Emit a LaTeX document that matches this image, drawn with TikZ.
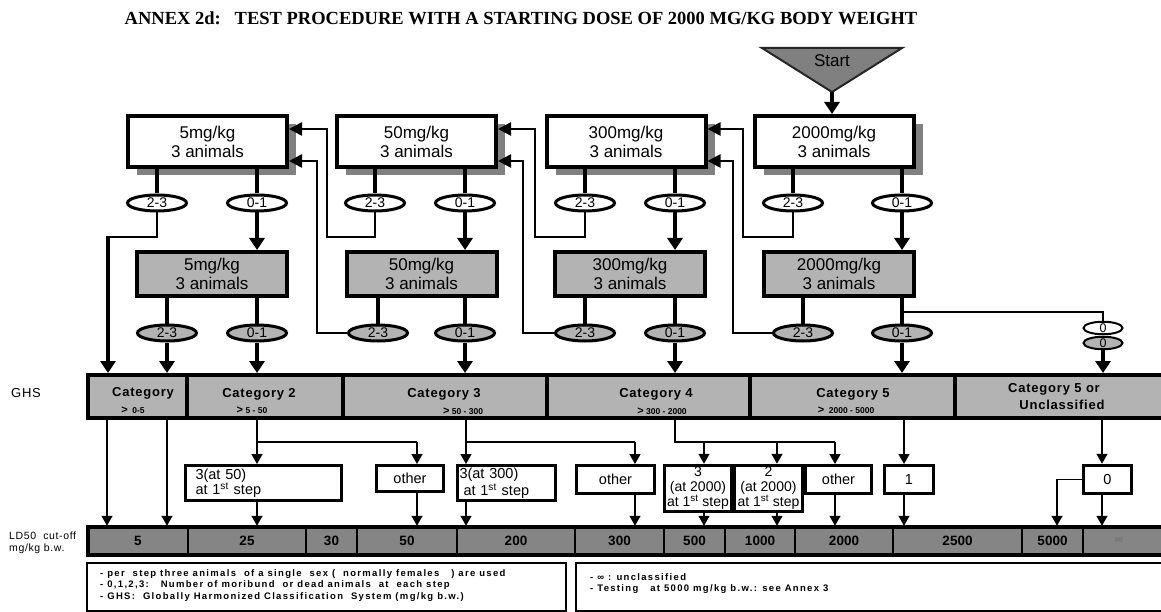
\documentclass[tikz,border=0pt]{standalone}
\usepackage{fontspec}
\setmainfont{Liberation Sans}
\newfontfamily\titlefont{Liberation Serif}
\newfontfamily\spacedfont[LetterSpace=6]{Liberation Sans}
\newfontfamily\widefont[LetterSpace=14]{Liberation Sans}
\usetikzlibrary{arrows.meta,shadows,shapes.geometric}
\definecolor{shadegray}{HTML}{808080}
\definecolor{lightgraytwo}{HTML}{B3B3B3}
\definecolor{darkgraytwo}{HTML}{858585}
\tikzset{
  bigtip/.tip={Triangle[width=15pt,length=12pt]},
  looptip/.tip={Triangle[width=13pt,length=13pt]},
  smalltip/.tip={Triangle[width=11pt,length=10pt]},
  wbox/.style={draw,line width=4pt,fill=white,minimum width=159pt,minimum height=51pt,inner sep=0pt,align=center,font=\fontsize{17}{19}\selectfont,general shadow={fill=shadegray,shadow xshift=9pt,shadow yshift=-8pt}},
  gbox/.style={draw,line width=4pt,fill=lightgraytwo,minimum width=150pt,minimum height=44pt,inner sep=0pt,align=center,font=\fontsize{17}{19}\selectfont},
  wov/.style={ellipse,draw,line width=3pt,fill=white,minimum width=59pt,minimum height=16pt,inner sep=0pt,font=\fontsize{14}{14}\selectfont},
  gov/.style={wov,fill=lightgraytwo},
  zov/.style={ellipse,draw,line width=2pt,fill=white,minimum width=39pt,minimum height=12pt,inner sep=0pt,font=\fontsize{12.5}{12.5}\selectfont},
  mainline/.style={line width=4pt},
  loopline/.style={line width=2.5pt},
  thinline/.style={line width=1.5pt},
  ghscell/.style={draw,line width=4pt,fill=lightgraytwo,minimum height=43pt,inner sep=0pt},
  ghstxt/.style={font=\spacedfont\bfseries\fontsize{13}{13}\selectfont,inner sep=0pt},
  ghssub/.style={font=\bfseries\fontsize{8.5}{9}\selectfont,inner sep=0pt},
  ldcell/.style={draw,line width=2.5pt,fill=darkgraytwo,minimum height=28pt,inner sep=0pt,font=\bfseries\fontsize{13.5}{14}\selectfont},
  lbox/.style={draw,line width=3pt,fill=white,inner sep=0pt,font=\fontsize{14.5}{15}\selectfont},
  legbox/.style={draw,line width=1.5pt,fill=white},
  legtxt/.style={anchor=north west,align=left,inner sep=0pt,font=\widefont\bfseries\fontsize{9.5}{11.5}\selectfont}
}
\begin{document}
\begin{tikzpicture}[x=1pt,y=-1pt]
\useasboundingbox (0,0) rectangle (1161,612);

% title
\node[font=\titlefont\bfseries\fontsize{18.5}{18.5}\selectfont] (title) at (521,18) {ANNEX 2d:\ \ \ TEST PROCEDURE WITH A STARTING DOSE OF 2000 MG/KG BODY WEIGHT};

% start
\coordinate (apex) at (832,92);
\draw[line width=2pt,draw=black!85,fill=shadegray] (762,48) -- (902,48) -- (apex) -- cycle;
\node[font=\fontsize{17}{17}\selectfont] (start) at (832,61) {Start};

% white boxes
\node[wbox] (wb5) at (207.5,141.5) {5mg/kg\\3 animals};
\node[wbox] (wb50) at (416.5,141.5) {50mg/kg\\3 animals};
\node[wbox] (wb300) at (626,141.5) {300mg/kg\\3 animals};
\node[wbox] (wb2000) at (834,141.5) {2000mg/kg\\3 animals};
\draw[mainline,-{bigtip}] (apex) -- (apex |- wb2000.north);

% gray boxes
\node[gbox] (gb5) at (212,274) {5mg/kg\\3 animals};
\node[gbox] (gb50) at (421.5,274) {50mg/kg\\3 animals};
\node[gbox] (gb300) at (630,274) {300mg/kg\\3 animals};
\node[gbox] (gb2000) at (839,274) {2000mg/kg\\3 animals};

% white ovals
\node[wov] (ow5a) at (157,203) {2-3};
\node[wov] (ow5b) at (257,203) {0-1};
\node[wov] (ow50a) at (375,203) {2-3};
\node[wov] (ow50b) at (465,203) {0-1};
\node[wov] (ow300a) at (585,203) {2-3};
\node[wov] (ow300b) at (675,203) {0-1};
\node[wov] (ow2000a) at (793,203) {2-3};
\node[wov] (ow2000b) at (902,203) {0-1};

% gray ovals
\node[gov] (og5a) at (167,333) {2-3};
\node[gov] (og5b) at (257,333) {0-1};
\node[gov] (og50a) at (378,333) {2-3};
\node[gov] (og50b) at (465,333) {0-1};
\node[gov] (og300a) at (585,333) {2-3};
\node[gov] (og300b) at (675,333) {0-1};
\node[gov] (og2000a) at (803,333) {2-3};
\node[gov] (og2000b) at (902,333) {0-1};

% zero ovals
\node[zov] (zw) at (1103,328) {0};
\node[zov,fill=lightgraytwo] (zg) at (1103,343) {0};

% GHS bar
\node[ghscell,minimum width=99pt] (c1) at (137.5,396.5) {};
\node[ghscell,minimum width=156pt] (c2) at (265,396.5) {};
\node[ghscell,minimum width=204pt] (c3) at (445,396.5) {};
\node[ghscell,minimum width=203pt] (c4) at (648.5,396.5) {};
\node[ghscell,minimum width=205pt] (c5) at (852.5,396.5) {};
\node[ghscell,minimum width=212pt] (c6) at (1061,396.5) {};
\node[ghstxt] (t1) at (143,393) {Category};
\node[ghssub] (s1) at (133,410) {{\fontsize{11}{11}\selectfont >}\ \ 0-5};
\node[ghstxt] (t2) at (259,394) {Category 2};
\node[ghssub] (s2) at (252,410) {{\fontsize{11}{11}\selectfont >}\ 5 - 50};
\node[ghstxt] (t3) at (444,394) {Category 3};
\node[ghssub] (s3) at (463,411) {{\fontsize{11}{11}\selectfont >}\ 50 - 300};
\node[ghstxt] (t4) at (656,394) {Category 4};
\node[ghssub] (s4) at (662,411) {{\fontsize{11}{11}\selectfont >}\ 300 - 2000};
\node[ghstxt] (t5) at (853,394) {Category 5};
\node[ghssub] (s5) at (846,410) {{\fontsize{11}{11}\selectfont >}\ \ 2000 - 5000};
\node[ghstxt] (t6) at (1054,389) {Category 5 or};
\node[ghstxt] (t7) at (1062,405) {Unclassified};
\node[font=\spacedfont\fontsize{13}{13}\selectfont] (ghs) at (26,393) {GHS};

% LD50 bar
\node[ldcell,minimum width=100pt] (ld1) at (138,541) {5};
\node[ldcell,minimum width=118pt] (ld2) at (247,541) {25};
\node[ldcell,minimum width=51pt] (ld3) at (331.5,541) {30};
\node[ldcell,minimum width=100pt] (ld4) at (407,541) {50};
\node[ldcell,minimum width=118pt] (ld5) at (516,541) {200};
\node[ldcell,minimum width=89pt] (ld6) at (619.5,541) {300};
\node[ldcell,minimum width=61pt] (ld7) at (694.5,541) {500};
\node[ldcell,minimum width=70pt] (ld8) at (760,541) {1000};
\node[ldcell,minimum width=98pt] (ld9) at (844,541) {2000};
\node[ldcell,minimum width=129pt] (ld10) at (957.5,541) {2500};
\node[ldcell,minimum width=61pt] (ld11) at (1052.5,541) {5000};
\node[ldcell,minimum width=84pt] (ld12) at (1125,541) {\hspace*{-12pt}{\color{black!55}\fontsize{12}{12}\selectfont ∞}};
\draw[line width=4pt] (88,527) rectangle (1167,555);
\node[anchor=west,align=left,inner sep=0pt,font=\spacedfont\fontsize{10.5}{12}\selectfont] (ldlab) at (9,543) {LD50\ \ cut-off\\mg/kg b.w.};

% connectors top part
\foreach \b/\o in {wb5/ow5a,wb5/ow5b,wb50/ow50a,wb50/ow50b,wb300/ow300a,wb300/ow300b,wb2000/ow2000a,wb2000/ow2000b}
  \draw[mainline] (\o.north |- \b.south) -- (\o.north);
\foreach \o/\b in {ow5b/gb5,ow50b/gb50,ow300b/gb300,ow2000b/gb2000}
  \draw[mainline,-{bigtip}] (\o.south) -- (\o.south |- \b.north);
\foreach \b/\o in {gb5/og5a,gb5/og5b,gb50/og50a,gb50/og50b,gb300/og300a,gb300/og300b,gb2000/og2000a,gb2000/og2000b}
  \draw[mainline] (\o.north |- \b.south) -- (\o.north);
\foreach \o/\c in {og5a/c1,og5b/c2,og50b/c3,og300b/c4,og2000b/c5}
  \draw[mainline,-{bigtip}] (\o.south) -- (\o.south |- \c.north);

% 5 mg 2-3 to category 1
\coordinate (k0) at (108,237);
\draw[loopline] (ow5a.south) |- (k0);
\draw[mainline,-{bigtip}] ([yshift=1.25pt]k0) -- (k0 |- c1.north);

% loops back
\coordinate (ua) at (0,129);
\coordinate (ub) at (0,161);
\draw[loopline,-{looptip}] (ow50a.south) |- (327,237) |- (wb5.east |- ua);
\draw[loopline,-{looptip}] (og50a.west) -- (317,333) |- (wb5.east |- ub);
\draw[loopline,-{looptip}] (ow300a.south) |- (535,237) |- (wb50.east |- ua);
\draw[loopline,-{looptip}] (og300a.west) -- (523,333) |- (wb50.east |- ub);
\draw[loopline,-{looptip}] (ow2000a.south) |- (743,237) |- (wb300.east |- ua);
\draw[loopline,-{looptip}] (og2000a.west) -- (733,333) |- (wb300.east |- ub);

% 2000 branch to zero ovals
\coordinate (br) at (902,312);
\draw[line width=2pt] (br) -| (zw.north);
\draw[mainline,-{bigtip}] (zg.south) -- (zg.south |- c6.north);

% lower boxes
\node[lbox,minimum width=156pt,minimum height=35pt,text width=136pt,inner xsep=10pt,align=left] (b50) at (263.5,483) {3(at 50)\\at 1\textsuperscript{st} step};
\node[lbox,minimum width=67pt,minimum height=26pt] (other1) at (410,478.5) {other};
\node[lbox,minimum width=98pt,minimum height=35pt,text width=94pt,inner xsep=2pt,align=left] (b300) at (506.5,483) {3(at 300)\\[2pt]\hspace*{4pt}at 1\textsuperscript{st} step};
\node[lbox,minimum width=78pt,minimum height=28pt] (other2) at (615.5,479.5) {other};
\node[lbox,line width=3.5pt,minimum width=67pt,minimum height=46pt,align=center,font=\fontsize{14}{15}\selectfont] (b2000a) at (698,488.5) {3\\(at 2000)\\at 1\textsuperscript{st} step};
\node[lbox,line width=3.5pt,minimum width=68pt,minimum height=46pt,align=center,font=\fontsize{14}{15}\selectfont] (b2000b) at (768.5,488.5) {2\\(at 2000)\\at 1\textsuperscript{st} step};
\node[lbox,minimum width=66pt,minimum height=28pt] (other3) at (838.5,479.5) {other};
\node[lbox,minimum width=49pt,minimum height=28pt] (box1) at (909,479.5) {1};
\node[lbox,line width=3.5pt,minimum width=48pt,minimum height=28pt] (box0) at (1107.5,479.5) {0};

% lower connectors
\coordinate (g1) at (107,420);
\coordinate (g2) at (167,420);
\coordinate (g3) at (257,420);
\coordinate (g4) at (466,420);
\coordinate (g5) at (675,420);
\coordinate (g6) at (904,420);
\coordinate (g7) at (1102,420);
\coordinate (j1) at (417,442);
\coordinate (j2) at (635,442);
\coordinate (j3) at (704,442);
\coordinate (j4) at (777,442);
\coordinate (j5) at (835,442);
\coordinate (j6) at (1057,0);
\draw[thinline,-{smalltip}] (g1) -- (g1 |- ld1.north);
\draw[thinline,-{smalltip}] (g2) -- (g2 |- ld1.north);
\draw[thinline] (g3) |- (j1);
\draw[thinline,-{smalltip}] (j1) -- (j1 |- other1.north);
\draw[thinline,-{smalltip}] (g3) -- (g3 |- b50.north);
\draw[thinline,-{smalltip}] (g3 |- b50.south) -- (g3 |- ld2.north);
\draw[thinline,-{smalltip}] (j1 |- other1.south) -- (j1 |- ld4.north);
\draw[thinline] (g4) |- (j2);
\draw[thinline,-{smalltip}] (j2) -- (j2 |- other2.north);
\draw[thinline,-{smalltip}] (g4) -- (g4 |- b300.north);
\draw[thinline,-{smalltip}] (g4 |- b300.south) -- (g4 |- ld5.north);
\draw[thinline,-{smalltip}] (j2 |- other2.south) -- (j2 |- ld6.north);
\draw[thinline] (g5) |- (j5);
\draw[thinline,-{smalltip}] (j3) -- (j3 |- b2000a.north);
\draw[thinline,-{smalltip}] (j4) -- (j4 |- b2000b.north);
\draw[thinline,-{smalltip}] (j5) -- (j5 |- other3.north);
\draw[thinline,-{smalltip}] (j3 |- b2000a.south) -- (j3 |- ld7.north);
\draw[thinline,-{smalltip}] (j4 |- b2000b.south) -- (j4 |- ld8.north);
\draw[thinline,-{smalltip}] (j5 |- other3.south) -- (j5 |- ld9.north);
\draw[thinline,-{smalltip}] (g6) -- (g6 |- box1.north);
\draw[thinline,-{smalltip}] (g6 |- box1.south) -- (g6 |- ld10.north);
\draw[thinline,-{smalltip}] (g7) -- (g7 |- box0.north);
\draw[thinline,-{smalltip}] (g7 |- box0.south) -- (g7 |- ld12.north);
\draw[thinline,-{smalltip}] (box0.west) -| (j6 |- ld11.north);

% legend
\draw[legbox] (87,563) rectangle (566,611);
\draw[legbox] (576,563) rectangle (1170,611);
\node[legtxt] (leg1) at (100,569) {- per\ \ step three animals\ \ of a single\ \ sex (\ \ normally females\ \ \ ) are used\\- 0,1,2,3:\ \ \ Number of moribund\ \ or dead animals\ \ at\ \ each step\\- GHS:\ \ Globally Harmonized Classification\ \ System (mg/kg b.w.)};
\node[legtxt] (leg2) at (590,573) {- ∞ : unclassified\\- Testing\ \ \ at 5000 mg/kg b.w.: see Annex 3};
\end{tikzpicture}
\end{document}
